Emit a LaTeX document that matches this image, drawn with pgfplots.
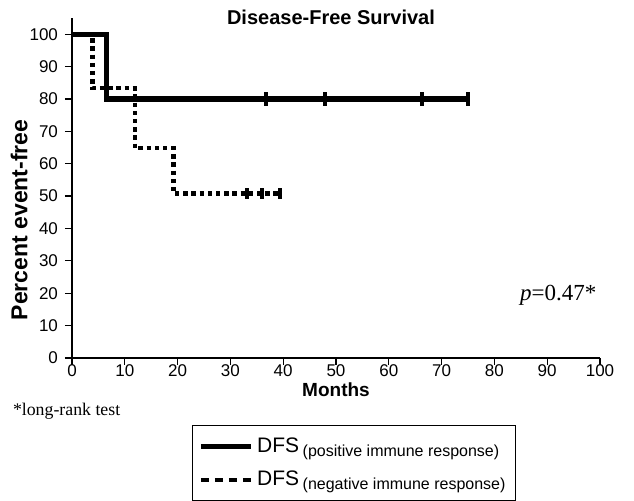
\documentclass[border=0pt]{standalone}
\usepackage{pgfplots}
\pgfplotsset{compat=1.18}
\usepackage{fontspec}
\setmainfont{Liberation Sans}
\newfontfamily\timesfont{Liberation Serif}

\begin{document}
\begin{tikzpicture}
\begin{axis}[
  scale only axis,
  width=264pt,height=170pt,
  xmin=0,xmax=100,ymin=0,ymax=105,
  axis lines=left,axis line style={-,line width=0.6pt},
  xtick={0,10,...,100},ytick={0,10,...,100},
  tick align=outside,major tick length=3.5pt,
  tick style={line width=0.6pt,black},
  /pgf/number format/assume math mode=true,
  tick label style={font=\fontsize{8.5}{9}\selectfont},
  xticklabel style={inner sep=0pt,yshift=0.3pt},
  xlabel={Months},ylabel={Percent event-free},
  xlabel style={font=\bfseries\fontsize{9.5}{11}\selectfont,
    at={(axis description cs:0.5,-0.092)},anchor=center},
  ylabel style={font=\bfseries\fontsize{11.5}{14}\selectfont,
    at={(axis description cs:-0.1,0.406)},anchor=center},
  legend cell align=left,
  legend style={at={(axis description cs:0.534,-0.197)},anchor=north,
    draw=black,line width=0.6pt,inner xsep=3pt,inner ysep=4pt,
    row sep=4pt,font=\fontsize{10.5}{12}\selectfont},
]
% positive immune response
\addplot[const plot,line width=2.6pt,
  legend image code/.code={\draw[line width=2.4pt] (0pt,0pt) -- (25pt,0pt);}]
  coordinates {(0,100)(6.6,80)(75,80)};
\addlegendentry{DFS\,\raisebox{-0.35ex}{\fontsize{8}{9}\selectfont (positive immune response)}}
% negative immune response
\addplot[const plot,line width=2.2pt,dash pattern=on 2.2pt off 1.9pt,
  legend image code/.code={\draw[line width=2.4pt,dash pattern=on 4pt off 3pt] (0pt,0pt) -- (25pt,0pt);}]
  coordinates {(0,100)(3.9,83.3)(11.9,64.8)(19.2,50.8)(39.4,50.8)};
\addlegendentry{DFS\,\raisebox{-0.35ex}{\fontsize{8}{9}\selectfont (negative immune response)}}
% censored observations
\addplot[only marks,mark=|,mark size=3.3pt,mark options={line width=2pt},forget plot]
  coordinates {(36.7,80)(48,80)(66.3,80)(75,80)};
\addplot[only marks,mark=|,mark size=2.6pt,mark options={line width=2pt},forget plot]
  coordinates {(33.1,50.8)(36.0,50.8)(39.4,50.8)};
\node[font=\timesfont\fontsize{11.5}{13}\selectfont] at (axis cs:92.1,19.4) {\textit{p}=0.47*};
\end{axis}
\node[font=\bfseries\fontsize{10}{12}\selectfont] at (129.5pt,170.5pt) {Disease-Free Survival};
\node[font=\timesfont\fontsize{8.9}{10}\selectfont,anchor=west,inner sep=0pt] at (-29.7pt,-26.5pt) {*long-rank test};
\pgfresetboundingbox
\path[use as bounding box] (-36pt,-71.5pt) rectangle (281pt,179pt);
\end{tikzpicture}
\end{document}
